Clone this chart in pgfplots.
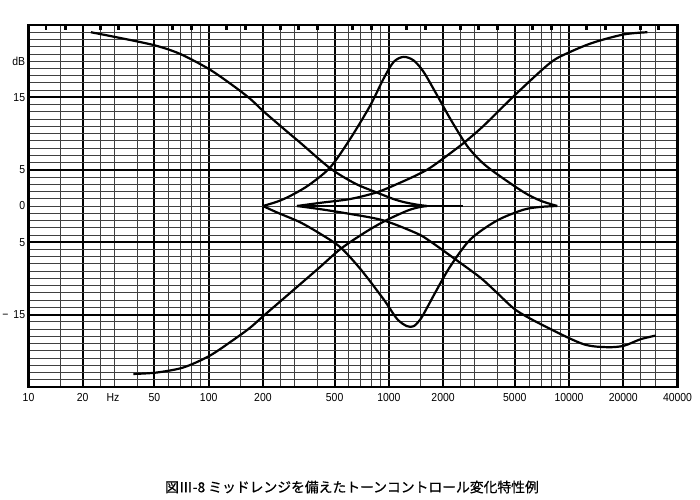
\documentclass[border=0pt]{standalone}
\usepackage{fontspec}
\setmainfont{Liberation Sans}
\newfontfamily\lab{Liberation Sans}[FakeStretch=0.9]
\newfontfamily\jp{Noto Sans CJK JP}[FakeBold=0.6]
\usepackage{pgfplots}
\pgfplotsset{compat=1.18}

\begin{document}
\begin{tikzpicture}[x=1pt,y=1pt]
% 1px of the scan = 0.5pt
\useasboundingbox (-14.25,-56) rectangle (335.75,193.5);
\begin{axis}[
  at={(0,0)}, anchor=south west, scale only axis,
  width=324.5pt, height=181pt,
  xmode=log, xmin=10, xmax=40000, ymin=-25, ymax=25,
  clip=false,
  axis line style={line width=1.1pt},
  major tick length=0pt, minor tick length=0pt,
  xtick pos=right, xticklabel pos=left,
  ytick pos=left,
  xtick={10,20,50,100,200,500,1000,2000,5000,10000,20000,40000},
  xticklabels={10,20,50,100,200,500,1000,2000,5000,10000,20000,40000},
  minor xtick={15,25,30,40,60,70,80,90,150,250,300,400,600,700,800,900,
    1500,2500,3000,4000,6000,7000,8000,9000,15000,25000,30000},
  extra x ticks={12.5,16,25,31.5,40,63,80,125,160,250,315,400,630,800,
    1250,1600,2500,3150,4000,6300,8000,12500,16000,25000,31500},
  extra x tick labels={},
  extra x tick style={grid=none, major tick length=2.5pt,
    tick style={line width=1.4pt, black}},
  ytick={-15,-5,5,15},
  yticklabels={−\hspace{2.5pt}15,5,5,15},
  extra y ticks={0,20},
  extra y tick labels={0,dB},
  extra y tick style={grid=none},
  minor ytick={-24,...,24},
  grid=both,
  major grid style={black, line width=1pt},
  minor grid style={black!75, line width=0.45pt},
  ticklabel style={font=\lab\fontsize{5.8}{6}\selectfont, inner sep=0pt},
  xticklabel style={yshift=-3pt},
  yticklabel style={xshift=-1.5pt},
  curve/.style={black, line width=1.1pt, smooth, tension=0.5},
]
% bass boost
\addplot[curve] coordinates {(22.2,24.0) (30.9,23.3) (50,22.2) (69.5,21.0)
  (100.6,18.9) (137,16.6) (170,14.8) (201,13.1) (260,10.7) (322,8.75) (473,5.2)
  (650,3.1) (860,1.85) (1050,1.0) (1208,0.55) (1420,0.2) (1630,0)};
% bass cut
\addplot[curve] coordinates {(38.2,-23.2) (51.5,-23.0) (72.4,-22.3) (101,-20.7)
  (137,-18.5) (170,-16.8) (201,-15.2) (260,-12.8) (322,-10.8) (416,-8.4)
  (538,-5.95) (732,-3.7) (950,-2.07) (1254,-0.69) (1450,-0.2) (1630,0)};
% flat
\addplot[curve] coordinates {(309,0) (2570,0)};
% mid boost
\addplot[curve] coordinates {(200,0) (240,0.6) (284,1.4) (360,2.9) (473,5.35)
  (611,9.3) (789,13.9) (935,17.6) (1063,19.9) (1208,20.6) (1373,20.1) (1561,18.5)
  (1852,15.3) (2197,12.0) (2719,8.3) (3300,6.0) (3990,4.4) (5610,1.9) (6950,0.73)
  (8600,0)};
% mid cut
\addplot[curve] coordinates {(200,0) (240,-0.9) (322,-2.25) (420,-3.9) (538,-5.7)
  (695,-8.7) (936,-12.9) (1111,-15.6) (1262,-16.6) (1373,-16.6) (1480,-15.8)
  (1561,-14.9) (1852,-11.5) (2197,-8.3) (2837,-4.6) (3990,-2.0) (5610,-0.5)
  (7000,-0.12) (8600,0)};
% treble boost
\addplot[curve] coordinates {(309,0) (420,0.45) (611,0.97) (860,1.9) (1150,3.2)
  (1435,4.3) (1701,5.3) (2197,7.3) (2661,8.9) (3362,11.1) (5044,15.4) (7890,19.8)
  (10190,21.3) (13740,22.6) (20160,23.7) (27190,24.0)};
% treble cut
\addplot[curve] coordinates {(309,0) (420,-0.45) (611,-1.1) (936,-2.0) (1435,-3.8)
  (1701,-4.9) (2291,-7.2) (3222,-9.9) (3990,-12.0) (5155,-14.5) (7890,-17.0)
  (12080,-19.1) (16300,-19.5) (20160,-19.3) (24950,-18.4) (30260,-17.9)};
\end{axis}
\node[anchor=north, inner sep=0pt, font=\lab\fontsize{5.8}{6}\selectfont]
  at (42.25,-3) {Hz};
\node[font=\jp\fontsize{6.9}{8}\selectfont] at (161.75,-50)
  {図Ⅲ-8 ミッドレンジを備えたトーンコントロール変化特性例};
\end{tikzpicture}
\end{document}
